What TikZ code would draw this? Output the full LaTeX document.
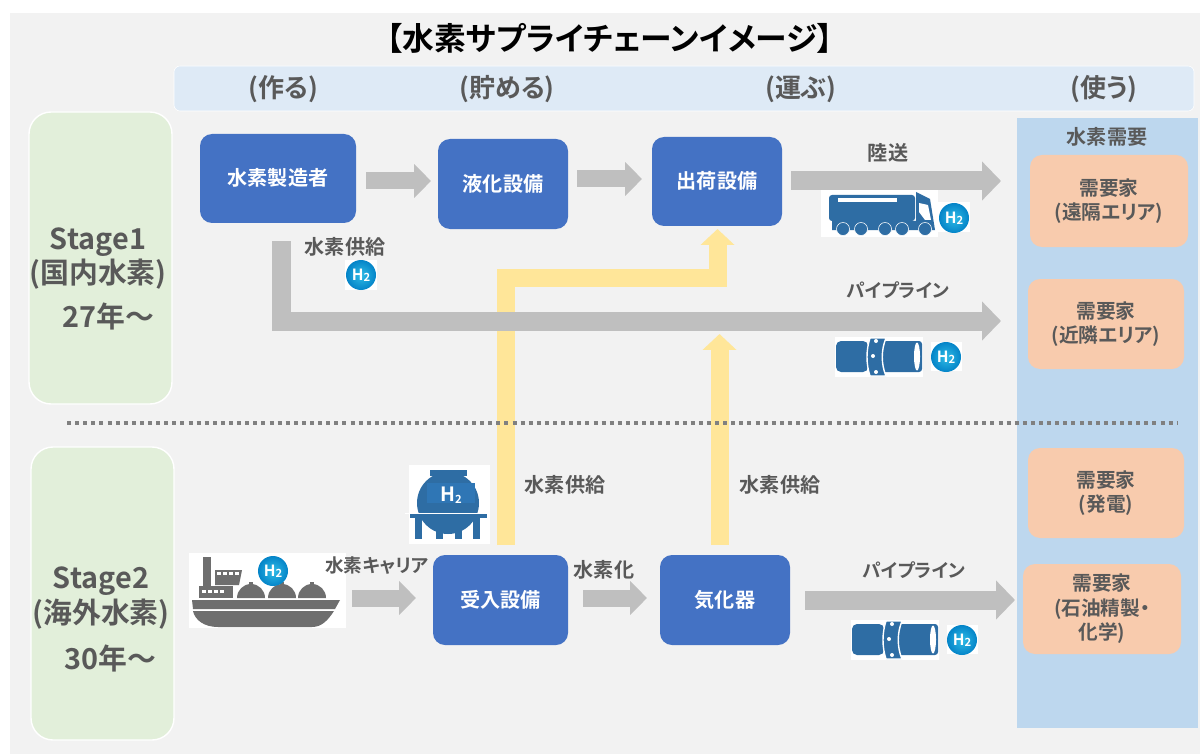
\documentclass[tikz,border=0pt]{standalone}
\usepackage{fontspec}
\setmainfont[BoldFont={Noto Sans CJK JP Bold},RawFeature={+palt}]{Noto Sans CJK JP}
\usetikzlibrary{arrows.meta,shapes.geometric}
\newlength\px
\setlength\px{0.025cm}
\definecolor{boxblue}{HTML}{4472C4}
\definecolor{iconblue}{HTML}{2E6DA4}
\definecolor{iconlight}{HTML}{2F76B5}
\definecolor{stagegreen}{HTML}{E2EFDA}
\definecolor{headblue}{HTML}{DEEAF6}
\definecolor{colblue}{HTML}{BDD7EE}
\definecolor{peach}{HTML}{F8CBAD}
\definecolor{pipegray}{HTML}{BFBFBF}
\definecolor{pipeyellow}{HTML}{FFE699}
\definecolor{labelgray}{HTML}{595959}
\definecolor{shipgray}{HTML}{6E6E6E}
\definecolor{ballin}{HTML}{30BCE6}
\definecolor{ballout}{HTML}{0484C8}
\tikzset{
  stepbox/.style={fill=boxblue,rounded corners=12\px,text=white,font=\bfseries\fontsize{14.3pt}{17pt}\selectfont,inner sep=0pt,text height=13pt,text depth=2.4pt},
  stagebox/.style={fill=stagegreen,draw=white,line width=1pt,rounded corners=22\px,inner sep=0pt},
  userbox/.style={fill=peach,rounded corners=12\px,align=center,text=labelgray,font=\bfseries\fontsize{14pt}{17.5pt}\selectfont,inner sep=0pt},
  headtext/.style={text=labelgray,font=\bfseries\fontsize{18.5pt}{20pt}\selectfont},
  stagetext/.style={text=labelgray,font=\bfseries\fontsize{20.5pt}{22pt}\selectfont},
  flowtext/.style={text=labelgray,inner sep=0pt,font=\bfseries\fontsize{14.3pt}{17pt}\selectfont},
  kanatext/.style={flowtext,font=\bfseries\fontsize{13.2pt}{17pt}\selectfont},
  grayarrow/.style={draw=pipegray,line width=19\px,-{Triangle[length=13.5pt,width=27pt]}},
  smallarrow/.style={draw=pipegray,line width=17\px,-{Triangle[length=12pt,width=23.4pt]}},
  yellowarrow/.style={draw=pipeyellow,line width=18\px,-{Triangle[length=11.3pt,width=23.4pt]}},
  hball/.style={circle,minimum size=30\px,inner sep=0pt,inner color=ballin,outer color=ballout,text=white,font=\bfseries\fontsize{11pt}{12pt}\selectfont},
}
\newcommand{\hlabel}{H\raisebox{-0.15ex}{\footnotesize 2}}
\begin{document}
\begin{tikzpicture}[x=0.025cm,y=-0.025cm]
\useasboundingbox (0,0) rectangle (1200,754);
\fill[white] (0,0) rectangle (1200,754);
\fill[black!5] (10,13) rectangle (1200,754);
% title and header band
\node[font=\bfseries\fontsize{22.6pt}{26pt}\selectfont] (title) at (610,38) {【水素サプライチェーンイメージ】};
\fill[headblue,draw=white,rounded corners=6\px] (174,66) rectangle (1194,111);
\node[headtext] (make) at (283,89) {(作る)};
\node[headtext] (store) at (507,89) {(貯める)};
\node[headtext] (carry) at (801,89) {(運ぶ)};
\node[headtext] (use) at (1104,89) {(使う)};
% stages
\node[stagebox,minimum width=143\px,minimum height=292\px] (stageone) at (100.5,258) {};
\node[stagebox,minimum width=143\px,minimum height=293\px] (stagetwo) at (102.5,593.5) {};
\node[stagetext] (stageonea) at (98,242) {Stage1};
\node[stagetext] (stageoneb) at (98,274) {(国内水素)};
\node[stagetext] (stageonec) at (108,316) {27年～};
\node[stagetext] (stagetwoa) at (101,581) {Stage2};
\node[stagetext] (stagetwob) at (101,614) {(海外水素)};
\node[stagetext] (stagetwoc) at (110,658) {30年～};
% demand column
\fill[colblue] (1017,118) rectangle (1198,728);
\node[flowtext] (demand) at (1107,137) {水素需要};
\node[userbox,minimum width=158\px,minimum height=92\px] (userfar) at (1109,201) {需要家\\(遠隔エリア)};
\node[userbox,minimum width=156\px,minimum height=90\px] (usernear) at (1106,324) {需要家\\(近隣エリア)};
\node[userbox,minimum width=156\px,minimum height=90\px] (userpower) at (1106,493) {需要家\\(発電)};
\node[userbox,minimum width=158\px,minimum height=90\px] (userchem) at (1102,609) {需要家\\(石油精製・\\化学)};
% process boxes
\node[stepbox,minimum width=156\px,minimum height=89\px] (maker) at (278,178.5) {水素製造者};
\node[stepbox,minimum width=130\px,minimum height=90\px] (liquefy) at (503,184) {液化設備};
\node[stepbox,minimum width=130\px,minimum height=89\px] (shipping) at (717,181.5) {出荷設備};
\node[stepbox,minimum width=135\px,minimum height=90\px] (receive) at (500.5,600) {受入設備};
\node[stepbox,minimum width=130\px,minimum height=90\px] (vaporizer) at (725,600) {気化器};
% free ends of the pipes
\coordinate (makerout) at (281,241);
\coordinate (nearend) at (1001,321);
\coordinate (farstart) at (791,181);
\coordinate (farend) at (1001,181);
\coordinate (recvout) at (505.5,545);
\coordinate (recvbend) at (717.5,278);
\coordinate (recvturn) at (717.5,287);
\coordinate (shipin) at (717.5,229);
\coordinate (vapout) at (719.5,545);
\coordinate (vapend) at (719.5,334);
\coordinate (chemstart) at (805,600);
\coordinate (chemend) at (1015,600);
\coordinate (boatout) at (352,598);
\coordinate (boatend) at (416,598);
\coordinate (liqa) at (366,181);
\coordinate (liqb) at (431,181);
\coordinate (shpa) at (577,179);
\coordinate (shpb) at (642,179);
\coordinate (vapa) at (583,598);
\coordinate (vapb) at (647,598);
% pipes
\draw[yellowarrow,-] (recvout) |- (recvbend);
\draw[yellowarrow] (recvturn) -- (shipin);
\draw[yellowarrow] (vapout) -- (vapend);
\draw[smallarrow] (liqa) -- (liqb);
\draw[smallarrow] (shpa) -- (shpb);
\draw[grayarrow] (farstart) -- (farend);
\draw[grayarrow] (makerout) |- (nearend);
\draw[smallarrow] (boatout) -- (boatend);
\draw[smallarrow] (vapa) -- (vapb);
\draw[grayarrow] (chemstart) -- (chemend);
% divider
\draw[line width=4\px,draw=black!50,dash pattern=on 4\px off 4.1\px] (67,423) -- (1178,423);
% tanker
\fill[white] (821,190) rectangle (938,237);
\fill[iconblue,rounded corners=3\px] (829,195) rectangle (915,221);
\fill[iconblue] (832,221) -- (916,221) -- (916,192) -- (930,199) -- (935,230) -- (832,230) -- cycle;
\fill[white] (838,198) rectangle (897,202);
\fill[white] (919,203) -- (928,205) -- (931,220) -- (925,220) -- (919,212) -- cycle;
\foreach \wx in {843,861,885,902,925}
  \fill[iconblue,draw=white] (\wx,229) circle (6.5\px);
\fill[white] (938,202) rectangle (970,232);
\node[hball] (balla) at (954,218) {\hlabel};
\fill[white] (345,260) rectangle (377,290);
\node[hball] (balle) at (361,275) {\hlabel};
% pipe joints
\foreach \py/\sx/\nm in {0/0/ballb,283/16/ballc}{
  \begin{scope}[shift={(\sx,\py)}]
    \fill[white] (835,337) rectangle (923,377);
    \fill[iconblue,rounded corners=5\px] (836,341) rectangle (868,372);
    \fill[iconblue,rounded corners=3\px] (880,341) rectangle (922,372);
    \fill[white] (917,356.5) ellipse (3 and 14);
    \fill[iconblue,draw=white,line width=1pt] (870,338) .. controls (866,350) and (866,364) .. (870,376) -- (886,376) .. controls (881,364) and (881,350) .. (886,338) -- cycle;
    \fill[white] (876,341) circle (2\px);
    \fill[white] (873,356) circle (2\px);
    \fill[white] (876,372) circle (2\px);
    \fill[white] (931,342) rectangle (962,371);
    \node[hball] (\nm) at (946,357) {\hlabel};
  \end{scope}
}
% ship
\fill[white] (189,553) rectangle (346,628);
\fill[shipgray] (203,557) rectangle (211,587);
\fill[shipgray] (199,586) rectangle (233,598);
\fill[shipgray] (215,570) -- (242,570) -- (239,585) -- (215,585) -- cycle;
\foreach \dx in {202,208,214,220}
  \fill[white] (\dx,590) rectangle (\dx+4,593);
\foreach \dx in {217,223,229,235}
  \fill[white] (\dx,572) rectangle (\dx+4,575);
\foreach \dx in {251,282,312}{
  \fill[shipgray] (\dx-14,598) arc (180:0:14\px);
  \fill[shipgray] (\dx-2,582) rectangle (\dx+2,586);
}
\fill[shipgray] (192,600) -- (340,600) -- (335,609) -- (193,609) -- cycle;
\fill[shipgray] (193,611) -- (334,611) .. controls (328,620) and (322,627) .. (312,627) -- (218,627) .. controls (204,627) and (195,620) .. (193,611) -- cycle;
\node[hball] (balld) at (273,571) {\hlabel};
% storage tank
\fill[white] (409,465) rectangle (490,544);
\fill[iconblue] (430,470) rectangle (467,476);
\fill[iconblue] (448,503) circle (31\px);
\fill[iconlight] (427,483) rectangle (475,503);
\fill[white] (405,513) rectangle (490,514);
\fill[iconblue] (410,514) rectangle (487,518);
\foreach \lx in {415,436,455,473}
  \fill[iconblue] (\lx,518) rectangle (\lx+7,539);
\node[text=white,inner sep=0pt,font=\bfseries\fontsize{14pt}{15pt}\selectfont] (tanklabel) at (451,495) {\hlabel};
% pipe labels
\node[flowtext] (landlabel) at (888,153) {陸送};
\node[flowtext] (supplya) at (345,247) {水素供給};
\node[kanatext] (pipea) at (898,290) {パイプライン};
\node[flowtext] (supplyb) at (565,485) {水素供給};
\node[flowtext] (supplyc) at (780,485) {水素供給};
\node[kanatext] (carrier) at (377,566) {水素キャリア};
\node[flowtext] (hydro) at (604,570) {水素化};
\node[kanatext] (pipeb) at (914,570) {パイプライン};
\end{tikzpicture}
\end{document}
